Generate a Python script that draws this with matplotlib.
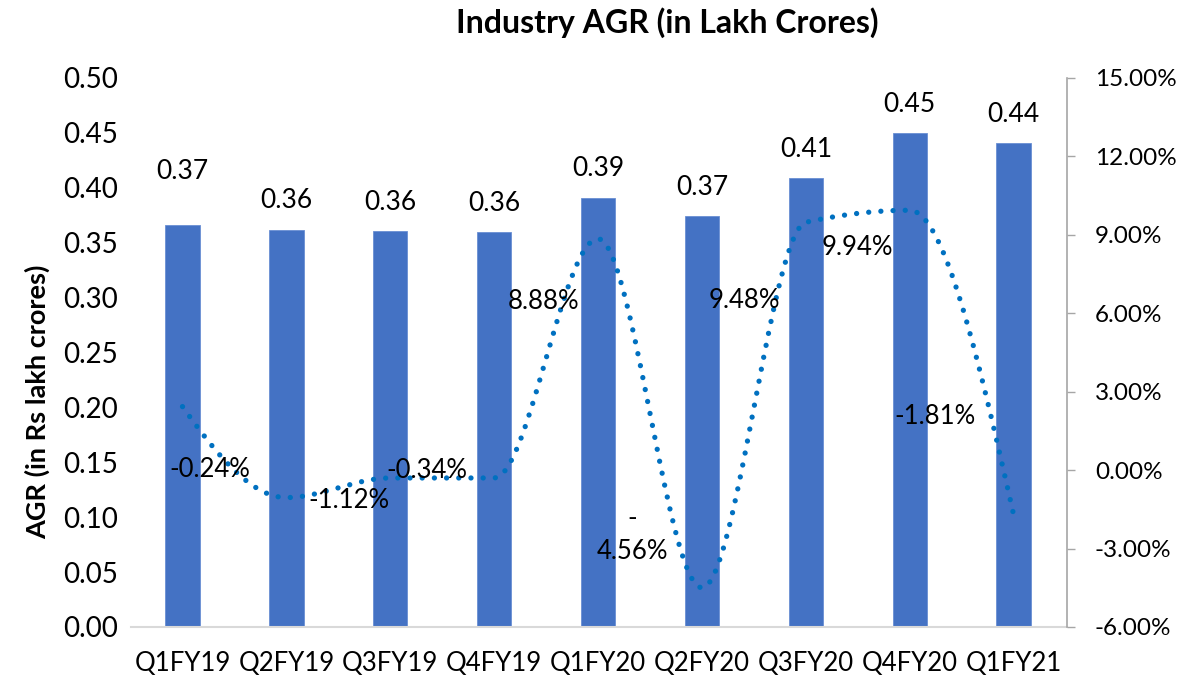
import numpy as np
import matplotlib.pyplot as plt
from matplotlib.ticker import FuncFormatter

plt.rcParams['font.family'] = ['Lato', 'DejaVu Sans']

quarters = ['Q1FY19', 'Q2FY19', 'Q3FY19', 'Q4FY19', 'Q1FY20',
            'Q2FY20', 'Q3FY20', 'Q4FY20', 'Q1FY21']
agr = [0.366, 0.362, 0.361, 0.360, 0.391, 0.374, 0.409, 0.450, 0.441]
growth = [2.43, -1.05, -0.30, -0.30, 8.85, -4.50, 9.48, 9.94, -1.70]
growth_labels = ['-0.24%', '-1.12%', '-0.34%', '8.88%', '-\n4.56%',
                 '9.48%', '9.94%', '-1.81%']
# where Excel put the labels: bar label gap (left units), growth labels (x, % units)
bar_label_gap = [0.049, 0.026, 0.026, 0.026, 0.027, 0.026, 0.026, 0.026, 0.026]
label_pos = [(0.26, 0.04), (1.60, -1.17), (2.35, 0.0), (3.48, 6.44),
             (4.33, -2.48), (5.41, 6.48), (6.50, 8.51), (7.24, 2.07)]


def smooth(ys, n=40):
    # monotone cubic (no overshoot) through every point, unit spacing
    y = np.asarray(ys, dtype=float)
    d = np.diff(y)
    m = np.zeros_like(y)
    for k in range(1, len(y) - 1):
        if d[k - 1] * d[k] > 0:
            m[k] = 2 / (1 / d[k - 1] + 1 / d[k])
    for k, a, b in [(0, d[0], d[1]), (-1, d[-1], d[-2])]:
        e = (3 * a - b) / 2
        if np.sign(e) != np.sign(a):
            e = 0
        elif np.sign(a) != np.sign(b) and abs(e) > abs(3 * a):
            e = 3 * a
        m[k] = e
    xs, out = [], []
    t = np.linspace(0, 1, n)
    for k in range(len(y) - 1):
        h00 = 2 * t ** 3 - 3 * t ** 2 + 1
        h10 = t ** 3 - 2 * t ** 2 + t
        h01 = -2 * t ** 3 + 3 * t ** 2
        h11 = t ** 3 - t ** 2
        seg = h00 * y[k] + h10 * m[k] + h01 * y[k + 1] + h11 * m[k + 1]
        xs.append(k + t if k == 0 else (k + t)[1:])
        out.append(seg if k == 0 else seg[1:])
    return np.concatenate(xs), np.concatenate(out)


fig = plt.figure(figsize=(12.01, 6.81), dpi=100)
ax = fig.add_axes([0.1087, 0.0793, 0.7798, 0.8062])
x = np.arange(len(quarters))

ax.bar(x, agr, width=0.33, color='#4472C4', edgecolor='#6A8FD3', linewidth=0.6, zorder=2)
for xi, v, g in zip(x, agr, bar_label_gap):
    ax.text(xi, v + g, f'{v:.2f}', ha='center', va='center', fontsize=19)

ax.set_xlim(-0.5, 8.515)
ax.set_ylim(0, 0.5)
ax.set_yticks(np.arange(0, 0.51, 0.05))
ax.yaxis.set_major_formatter(FuncFormatter(lambda v, p: f'{v:.2f}'))
ax.set_xticks(x)
ax.set_xticklabels(quarters)
ax.tick_params(axis='y', length=0, pad=9, labelsize=20)
ax.tick_params(axis='x', length=0, pad=17, labelsize=18.5)
for s in ['top', 'left', 'right']:
    ax.spines[s].set_visible(False)
ax.spines['bottom'].set_color('#D9D9D9')
ax.spines['bottom'].set_linewidth(1.5)

ax2 = ax.twinx()
ax2.set_ylim(-6, 15)
ax2.set_yticks(np.arange(-6, 15.1, 3))
ax2.yaxis.set_major_formatter(FuncFormatter(lambda v, p: f'{v:.2f}%'))
ax2.tick_params(axis='y', length=6, width=1, color='#A6A6A6', pad=14, labelsize=17.5)
for s in ['top', 'left', 'bottom']:
    ax2.spines[s].set_visible(False)
ax2.spines['right'].set_color('#A6A6A6')
ax2.spines['right'].set_linewidth(1.2)

sx, sy = smooth(growth)
ax2.plot(sx, sy, color='#0070C0', linewidth=3.8, linestyle=(0, (0.01, 2.3)),
         dash_capstyle='round', zorder=3)
for txt, (lx, ly) in zip(growth_labels, label_pos):
    ax2.text(lx, ly, txt, ha='center', va='center', fontsize=18.5, linespacing=1.4)

fig.text(0.5552, 0.967, 'Industry AGR (in Lakh Crores)', ha='center', va='center',
         fontsize=23, fontweight='bold')
fig.text(0.031, 1 - 402 / 681, 'AGR (in Rs lakh crores)', ha='center', va='center',
         rotation=90, fontsize=19.5, fontweight='bold')

plt.savefig('out.png', dpi=100)
